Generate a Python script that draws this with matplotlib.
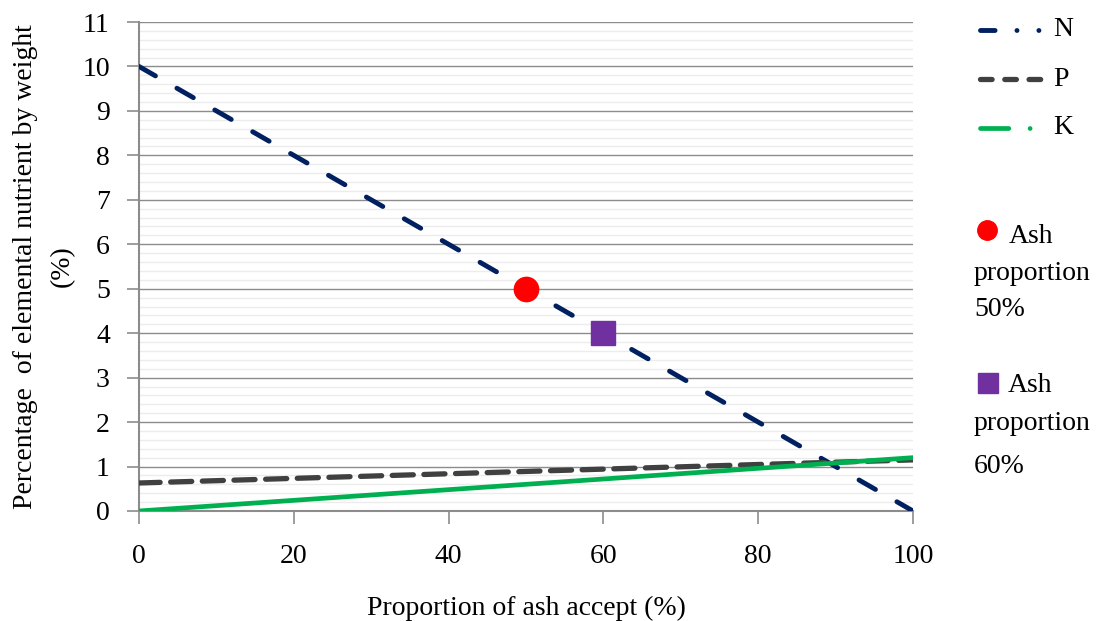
import matplotlib
matplotlib.use("Agg")
import matplotlib.pyplot as plt
from matplotlib.lines import Line2D
from matplotlib.ticker import MultipleLocator
import numpy as np

# ---- data ----
x_vals = [0, 100]
n_vals = [10.0, 0.0]
p_vals = [0.63, 1.15]
k_vals = [0.0, 1.2]
ash50 = (50, 5.0)
ash60 = (60, 4.0)
x_ticks = [0, 20, 40, 60, 80, 100]
y_ticks = list(range(0, 12))
series_names = ["N", "P", "K"]
marker_labels = ["Ash\nproportion\n50%", "Ash\nproportion\n60%"]

C_N = "#002060"
C_P = "#404040"
C_K = "#00B050"
C_R = "#FF0000"
C_PU = "#7030A0"

plt.rcParams["font.family"] = ["Liberation Serif", "DejaVu Serif"]
FS = 20

fig = plt.figure(figsize=(11.11, 6.21), dpi=100)
W, H = 1111, 621
ax = fig.add_axes([139 / W, 1 - 511 / H, (913 - 139) / W, (511 - 22) / H])

ax.set_xlim(0, 100)
ax.set_ylim(0, 11)
ax.set_xticks(x_ticks)
ax.set_yticks(y_ticks)
ax.yaxis.set_minor_locator(MultipleLocator(0.2))
ax.grid(True, which="major", axis="y", color="#8c8c8c", lw=1.0, zorder=0)
ax.grid(True, which="minor", axis="y", color="#ececec", lw=1.0, zorder=0)
ax.tick_params(axis="y", which="minor", length=0)
ax.tick_params(axis="both", which="major", length=9, width=1.2, color="#8c8c8c",
               labelsize=FS, direction="out")
ax.tick_params(axis="y", pad=12)
ax.tick_params(axis="x", pad=15)
for s in ["top", "right"]:
    ax.spines[s].set_visible(False)
for s in ["left", "bottom"]:
    ax.spines[s].set_color("#8c8c8c")
    ax.spines[s].set_linewidth(1.5)
ax.set_axisbelow(True)

ln, = ax.plot(x_vals, n_vals, color=C_N, lw=3.5, solid_capstyle="round",
              dash_capstyle="round", zorder=3)
ln.set_dashes((3.9, 5.09))
lp, = ax.plot(x_vals, p_vals, color=C_P, lw=3.8, dash_capstyle="round", zorder=3)
lp.set_dashes((4.0, 2.0))
lk, = ax.plot(x_vals, k_vals, color=C_K, lw=3.4, solid_capstyle="round", zorder=4)

ax.plot([ash50[0]], [ash50[1]], "o", color=C_R, ms=17.5, zorder=5)
ax.plot([ash60[0]], [ash60[1]], "s", color=C_PU, ms=17.5, zorder=5)

ax.set_xlabel("Proportion of ash accept (%)", fontsize=FS, labelpad=19)
ax.set_ylabel("Percentage  of elemental nutrient by weight\n(%)", fontsize=FS,
              labelpad=5, linespacing=1.65)

# ---- legend (manual, figure coordinates) ----
def fx(px):
    return px / W

def fy(py):
    return 1 - py / H

leg_specs = [
    (series_names[0], C_N, 30, (0, (3.0, 4.5, 0.01, 4.5, 0.01, 4.5)), 3.5),
    (series_names[1], C_P, 79, (0, (2.2, 2.4)), 3.8),
    (series_names[2], C_K, 128, (0, (6.0, 4.5, 0.01, 4.5)), 3.4),
]
for name, col, py, ls, w in leg_specs:
    l = Line2D([fx(980), fx(1046)], [fy(py), fy(py)], transform=fig.transFigure,
               color=col, lw=w, linestyle=ls, dash_capstyle="round",
               solid_capstyle="round")
    fig.add_artist(l)
    fig.text(fx(1053), fy(py), name, fontsize=FS, va="center", ha="left")

fig.add_artist(Line2D([fx(987)], [fy(230)], transform=fig.transFigure,
                      marker="o", color=C_R, ms=14, lw=0))
fig.text(fx(1009), fy(243), "Ash", fontsize=FS, va="baseline", ha="left")
fig.text(fx(974), fy(280), "proportion", fontsize=FS, va="baseline", ha="left")
fig.text(fx(974), fy(316), "50%", fontsize=FS, va="baseline", ha="left")

fig.add_artist(Line2D([fx(988)], [fy(383)], transform=fig.transFigure,
                      marker="s", color=C_PU, ms=15, lw=0))
fig.text(fx(1008), fy(392), "Ash", fontsize=FS, va="baseline", ha="left")
fig.text(fx(974), fy(430), "proportion", fontsize=FS, va="baseline", ha="left")
fig.text(fx(974), fy(473), "60%", fontsize=FS, va="baseline", ha="left")

fig.savefig("out.png", dpi=100)
